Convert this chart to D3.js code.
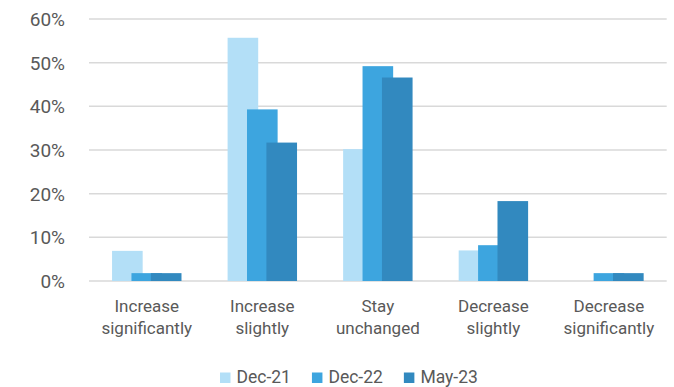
<!DOCTYPE html>
<html>
<head>
<meta charset="utf-8">
<script src="https://cdn.jsdelivr.net/npm/d3@7"></script>
<style>
  html, body { margin: 0; padding: 0; background: #fff; }
  svg { display: block; font-family: Roboto, "Noto Sans", sans-serif; }
</style>
</head>
<body>
<svg id="chart" width="674" height="387"></svg>
<script>
// Expected change in outlook, share of respondents per survey wave
const categories = [
  ["Increase", "significantly"],
  ["Increase", "slightly"],
  ["Stay", "unchanged"],
  ["Decrease", "slightly"],
  ["Decrease", "significantly"]
];
const seriesNames = ["Dec-21", "Dec-22", "May-23"];
const dec21 = [0.069, 0.557, 0.302, 0.070, 0.000];
const dec22 = [0.018, 0.393, 0.492, 0.082, 0.018];
const may23 = [0.018, 0.317, 0.466, 0.183, 0.018];
const seriesValues = [dec21, dec22, may23];
const yTicks = [0, 0.1, 0.2, 0.3, 0.4, 0.5, 0.6];
const colors = ["#b3dff7", "#3da5df", "#3289bf"];

const svg = d3.select("#chart");
const plot = { left: 89, right: 666.7, top: 19, bottom: 281 };

const x = d3.scaleBand()
  .domain(d3.range(categories.length))
  .range([plot.left, plot.right])
  .padding(0);

const y = d3.scaleLinear()
  .domain([0, 0.6])
  .range([plot.bottom, plot.top]);

// Horizontal gridlines
svg.append("g")
  .selectAll("line")
  .data(yTicks)
  .join("line")
  .attr("x1", plot.left)
  .attr("x2", plot.right)
  .attr("y1", d => y(d))
  .attr("y2", d => y(d))
  .attr("stroke", "#d9d9d9")
  .attr("stroke-width", 1.5);

// Y axis labels
svg.append("g")
  .selectAll("text")
  .data(yTicks)
  .join("text")
  .attr("x", 65)
  .attr("y", d => y(d))
  .attr("dy", "0.37em")
  .attr("text-anchor", "end")
  .attr("fill", "#595959")
  .attr("font-size", 19)
  .text(d => d3.format(".0%")(d));

// Clustered bars with overlap between neighbouring series
const barW = x.bandwidth() * 0.265;
const step = x.bandwidth() * 0.168;
seriesValues.forEach((vals, si) => {
  svg.append("g")
    .selectAll("rect")
    .data(vals)
    .join("rect")
    .attr("x", (d, i) => x(i) + x.bandwidth() / 2 + (si - 1) * step - barW / 2)
    .attr("width", barW)
    .attr("y", d => y(d))
    .attr("height", d => y(0) - y(d))
    .attr("fill", colors[si]);
});

// Category labels (two lines)
const catG = svg.append("g");
categories.forEach((lines, i) => {
  const t = catG.append("text")
    .attr("text-anchor", "middle")
    .attr("fill", "#595959")
    .attr("font-size", 17);
  lines.forEach((ln, li) => {
    t.append("tspan")
      .attr("x", x(i) + x.bandwidth() / 2)
      .attr("y", 312 + li * 22)
      .text(ln);
  });
});

// Legend
const leg = svg.append("g");
let lx = 220;
seriesNames.forEach((name, i) => {
  leg.append("rect")
    .attr("x", lx)
    .attr("y", 372.5)
    .attr("width", 10.5)
    .attr("height", 10.5)
    .attr("fill", colors[i]);
  const t = leg.append("text")
    .attr("x", lx + 16.5)
    .attr("y", 383)
    .attr("fill", "#595959")
    .attr("font-size", 17.5)
    .text(name);
  lx = lx + 16.5 + t.node().getComputedTextLength() + 21;
});
</script>
</body>
</html>
